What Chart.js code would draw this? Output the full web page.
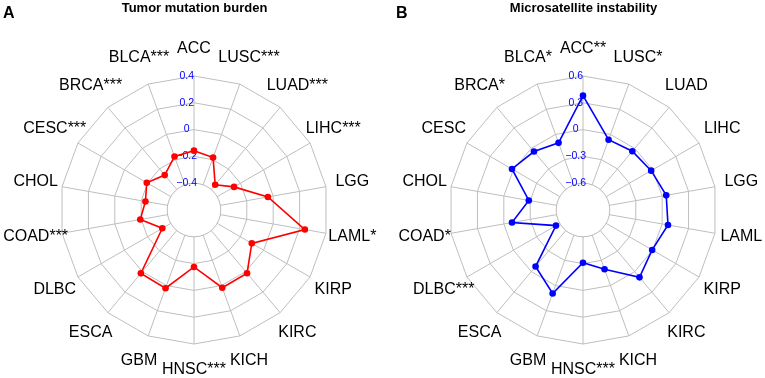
<!DOCTYPE html>
<html>
<head>
<meta charset="utf-8">
<script src="https://cdn.jsdelivr.net/npm/chart.js@4"></script>
<style>
  html, body { margin: 0; padding: 0; background: #fff; }
  #wrap { position: relative; width: 765px; height: 378px; overflow: hidden; }
  canvas { position: absolute; top: 0; }
</style>
</head>
<body>
<div id="wrap">
  <canvas id="tmb" width="382" height="378" style="left:0"></canvas>
  <canvas id="msi" width="383" height="378" style="left:382px"></canvas>
</div>
<script>
// cancer types, clockwise from the top
const categories = ['ACC', 'LUSC', 'LUAD', 'LIHC', 'LGG', 'LAML', 'KIRP', 'KIRC', 'KICH',
                    'HNSC', 'GBM', 'ESCA', 'DLBC', 'COAD', 'CHOL', 'CESC', 'BRCA', 'BLCA'];

// significance marks
const tmbStars = ['', '***', '***', '***', '', '*', '', '', '', '***', '', '', '', '***', '', '***', '***', '***'];
const msiStars = ['**', '*', '', '', '', '', '', '', '', '***', '', '', '***', '*', '', '', '*', '*'];

// correlation values
const tmbValues = [-0.157, -0.184, -0.354, -0.255, -0.04, 0.24, -0.102, 0.016, 0.017,
                   -0.175, 0.021, 0.017, -0.327, -0.193, -0.232, -0.193, -0.26, -0.175];
const msiValues = [0.38, -0.063, -0.041, -0.019, 0.046, 0.066, -0.006, 0.084, -0.195,
                   -0.31, 0.094, -0.074, -0.551, -0.093, -0.284, 0.018, -0.046, -0.10];

// axis ranges (center value, outer value, step)
const tmbAxis = [-0.6, 0.4, 0.2];
const msiAxis = [-0.9, 0.6, 0.3];

const gridColor = '#BEBEBE';
const fontFamily = '"Liberation Sans", Arial, sans-serif';

function fmtTick(v, i) {
  if (i === 0) return '';
  const pad = '     ';
  if (Math.abs(v) < 1e-9) return '0' + pad;
  return (v < 0 ? '\u2212' : '') + Math.abs(v).toFixed(1) + pad;
}

// white hole in the middle, drawn right after the grid
const holePlugin = {
  id: 'hole',
  beforeDraw(chart) {
    const s = chart.scales.r;
    if (s._holePatched) return;
    const orig = s.drawGrid;
    s.drawGrid = function (area) {
      orig.call(this, area);
      const r = this.getDistanceFromCenterForValue(this.ticks[1].value);
      const c = this.ctx;
      c.save();
      c.beginPath();
      c.arc(this.xCenter, this.yCenter, r, 0, Math.PI * 2);
      c.fillStyle = '#fff';
      c.fill();
      c.strokeStyle = gridColor;
      c.lineWidth = 1;
      c.stroke();
      c.restore();
    };
    s._holePatched = true;
  }
};

// category labels centred around the web, plus the panel letter
const labelPlugin = {
  id: 'outerLabels',
  afterDraw(chart, args, opts) {
    const s = chart.scales.r;
    const c = chart.ctx;
    c.save();
    c.fillStyle = '#000';
    c.font = '16px ' + fontFamily;
    c.textAlign = 'center';
    c.textBaseline = 'alphabetic';
    chart.data.labels.forEach((lab, i) => {
      const p = s.getPointPosition(i, s.drawingArea * 1.2);
      c.fillText(lab, p.x, p.y + 3.5);
    });
    c.font = 'bold 16px ' + fontFamily;
    c.textAlign = 'left';
    c.fillText(opts.letter, opts.x, 18);
    c.restore();
  }
};

function makeRadar(id, title, letter, letterX, stars, values, axis, color, padLeft, padRight) {
  return new Chart(document.getElementById(id), {
    type: 'radar',
    data: {
      labels: categories.map((c, i) => c + stars[i]),
      datasets: [{
        data: values,
        borderColor: color,
        backgroundColor: color,
        pointBackgroundColor: color,
        pointBorderColor: color,
        pointBorderWidth: 0,
        pointRadius: 3.3,
        borderWidth: 1.6,
        fill: false,
        tension: 0
      }]
    },
    options: {
      responsive: false,
      animation: false,
      layout: { padding: { left: padLeft, right: padRight, top: 0, bottom: 26 } },
      scales: {
        r: {
          min: axis[0],
          max: axis[1],
          ticks: {
            stepSize: axis[2],
            color: '#0000FF',
            font: { family: fontFamily, size: 10.5 },
            showLabelBackdrop: false,
            callback: fmtTick
          },
          grid: { color: gridColor, lineWidth: 1 },
          angleLines: { color: gridColor, lineWidth: 1 },
          pointLabels: { display: false }
        }
      },
      plugins: {
        legend: { display: false },
        tooltip: { enabled: false },
        title: {
          display: true,
          text: title,
          color: '#000',
          font: { family: fontFamily, size: 13, weight: 'bold' },
          padding: { top: 1, bottom: 52.4 }
        },
        outerLabels: { letter: letter, x: letterX }
      }
    },
    plugins: [holePlugin, labelPlugin]
  });
}

makeRadar('tmb', 'Tumor mutation burden', 'A', 3, tmbStars, tmbValues, tmbAxis, '#FF0000', 53, 46);
makeRadar('msi', 'Microsatellite instability', 'B', 14, msiStars, msiValues, msiAxis, '#0000FF', 60, 40);
</script>
</body>
</html>
